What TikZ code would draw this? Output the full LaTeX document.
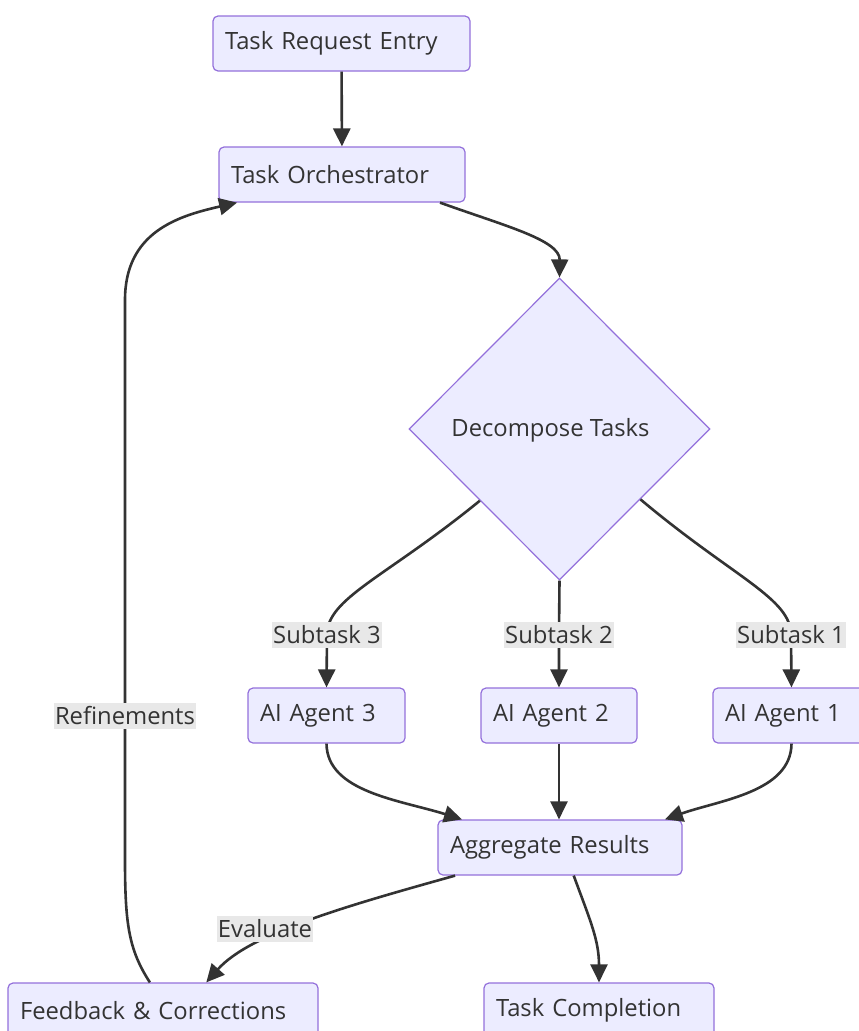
\documentclass[tikz,border=0pt]{standalone}
\usepackage{fontspec}
\setmainfont{Open Sans}
\usetikzlibrary{arrows.meta,shapes.geometric,calc}
\definecolor{boxfill}{HTML}{ECECFF}
\definecolor{boxline}{HTML}{9370DB}
\definecolor{ink}{HTML}{333333}
\definecolor{lblfill}{HTML}{E8E8E8}

\begin{document}
\begin{tikzpicture}[x=1pt,y=-1pt,
  font=\fontsize{23.8}{28}\selectfont,text=ink,
  box/.style={draw=boxline,fill=boxfill,line width=1.2pt,rounded corners=5pt,
    minimum height=55pt,inner xsep=12pt,inner ysep=0pt,text width=#1,align=left},
  choice/.style={diamond,draw=boxline,fill=boxfill,line width=1.2pt,
    minimum width=301pt,minimum height=302pt,inner sep=0pt},
  lbl/.style={fill=lblfill,inner xsep=1pt,inner ysep=2pt,minimum height=26pt},
  flow/.style={draw=ink,line width=2.6pt,-{Triangle[length=18pt,width=17pt]}}]
\useasboundingbox (0,0) rectangle (859,1031);

\node[box=233pt] (entry) at (341.5,43.5) {Task Request Entry};
\node[box=222pt] (orch) at (342,174.5) {Task Orchestrator};
\node[choice] (dec) at (559.5,429) {};
\node at ($(dec.center)+(-9,1)$) (dectxt) {Decompose Tasks};
\node[box=133pt] (a3) at (326.5,715.5) {AI Agent 3};
\node[box=132pt] (a2) at (559,715.5) {AI Agent 2};
\node[box=133pt] (a1) at (791.5,715.5) {AI Agent 1};
\node[box=220pt] (agg) at (560,847.5) {Aggregate Results};
\node[box=286pt] (fb) at (163,1010.5) {Feedback \& Corrections};
\node[box=206pt] (done) at (599,1010.5) {Task Completion};

\coordinate (s3) at (327,635);
\coordinate (s2) at (559,635);
\coordinate (s1) at (791,635);
\coordinate (ref) at (125,716);
\coordinate (ev) at (265,929);

\draw[flow] (entry) -- (orch);
\draw[flow] (orch.-16) .. controls (505,226) and (560,240) .. (dec.north);
\draw[flow] (dec.222) .. controls (385,578) and (327,598) .. (s3) -- (a3.north);
\draw[flow] (dec.south) -- (s2) -- (a2.north);
\draw[flow] (dec.-41.5) .. controls (734,578) and (791,598) .. (s1) -- (a1.north);
\draw[flow] (a3.south) .. controls (327,792) and (400,800) .. (agg.164.6);
\draw[flow] (a2.south) -- (agg.north -| a2.south);
\draw[flow] (a1.south) .. controls (791,792) and (720,800) .. (agg.15.4);
\draw[flow] (agg.195.4) .. controls (350,905) and (250,933) .. (fb.33.2);
\draw[flow] (agg.-64.7) .. controls (590,920) and (599,940) .. (done.north);
\draw[flow] (fb.115.3) .. controls (129,950) and (125,925) .. (125,860)
  -- (125,300) .. controls (125,232) and (178,216) .. (orch.195.8);

\node[lbl] at (s3) {Subtask 3};
\node[lbl] at (s2) {Subtask 2};
\node[lbl] at (s1) {Subtask 1};
\node[lbl] at (ref) {Refinements};
\node[lbl] at (ev) {Evaluate};
\end{tikzpicture}
\end{document}
